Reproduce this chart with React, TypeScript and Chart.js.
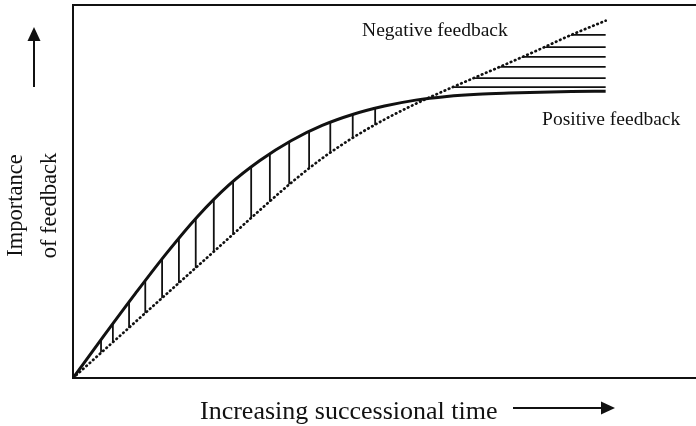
import React, { useEffect, useRef } from "react";
import { Chart, registerables } from "chart.js";

Chart.register(...registerables);

// Increasing successional time (arbitrary units, 0..100 across the frame)
const timeSteps = [0, 5, 10, 15, 20, 25, 30, 35, 40, 45, 50, 55, 60, 65, 70, 75, 80, 85.5];
// Importance of feedback (arbitrary units, 0..100 frame height)
const positiveFeedback = [0, 11.4, 22.6, 33.4, 43.3, 51.7, 58.3, 63.6, 67.7, 70.7, 72.9, 74.5, 75.5, 76.1, 76.4, 76.6, 76.8, 76.9];
const negativeFeedback = [0, 7.5, 15.0, 22.5, 30.0, 37.5, 45.0, 52.3, 58.9, 64.5, 69.3, 73.5, 77.3, 80.9, 84.5, 88.2, 92.0, 95.8];

// Hatching between the two curves
const verticalHatchX = [4.5, 6.4, 9.0, 11.6, 14.3, 17.0, 19.7, 22.6, 25.7, 28.6, 31.6, 34.7, 37.9, 41.3, 44.9, 48.5];
const horizontalHatchY = [92.0, 88.7, 86.1, 83.4, 80.4, 78.0];

// Text
const yTitleLines = ["Importance", "of feedback"];
const xTitle = "Increasing successional time";
const negativeLabel = { text: "Negative feedback", x: 46.4, y: 91.6 };
const positiveLabel = { text: "Positive feedback", x: 75.3, y: 67.8 };

const SERIF = '"Liberation Serif", "Times New Roman", serif';

function curvePath(ctx: CanvasRenderingContext2D, pts: any[], reverse: boolean, move: boolean) {
  const list = reverse ? [...pts].reverse() : pts;
  list.forEach((p: any, i: number) => {
    if (i === 0) {
      if (move) ctx.moveTo(p.x, p.y);
      else ctx.lineTo(p.x, p.y);
      return;
    }
    const prev = list[i - 1];
    if (prev.cp2x === undefined) {
      ctx.lineTo(p.x, p.y);
    } else if (!reverse) {
      ctx.bezierCurveTo(prev.cp2x, prev.cp2y, p.cp1x, p.cp1y, p.x, p.y);
    } else {
      ctx.bezierCurveTo(prev.cp1x, prev.cp1y, p.cp2x, p.cp2y, p.x, p.y);
    }
  });
}

const hatchPlugin = {
  id: "hatch",
  afterDatasetsDraw(chart: any) {
    const ctx: CanvasRenderingContext2D = chart.ctx;
    const metaPos = chart.getDatasetMeta(0);
    const metaNeg = chart.getDatasetMeta(1);
    metaPos.dataset.updateControlPoints(chart.chartArea, "x");
    metaNeg.dataset.updateControlPoints(chart.chartArea, "x");
    const pos = metaPos.data;
    const neg = metaNeg.data;
    const xs = chart.scales.x;
    const ys = chart.scales.y;
    const ca = chart.chartArea;
    ctx.save();
    ctx.beginPath();
    curvePath(ctx, pos, false, true);
    curvePath(ctx, neg, true, false);
    ctx.closePath();
    ctx.clip();
    ctx.strokeStyle = "#111";
    ctx.lineWidth = 1.8;
    ctx.beginPath();
    verticalHatchX.forEach((v) => {
      const px = xs.getPixelForValue(v);
      ctx.moveTo(px, ca.top);
      ctx.lineTo(px, ca.bottom);
    });
    horizontalHatchY.forEach((v) => {
      const py = ys.getPixelForValue(v);
      ctx.moveTo(ca.left, py);
      ctx.lineTo(ca.right, py);
    });
    ctx.stroke();
    ctx.restore();
  },
};

const annotationPlugin = {
  id: "annotations",
  afterDraw(chart: any) {
    const ctx: CanvasRenderingContext2D = chart.ctx;
    const ca = chart.chartArea;
    const xs = chart.scales.x;
    const ys = chart.scales.y;
    ctx.save();
    ctx.fillStyle = "#111";
    ctx.strokeStyle = "#111";

    // curve labels
    ctx.font = `19.5px ${SERIF}`;
    ctx.textAlign = "left";
    ctx.textBaseline = "alphabetic";
    ctx.fillText(negativeLabel.text, xs.getPixelForValue(negativeLabel.x), ys.getPixelForValue(negativeLabel.y));
    ctx.fillText(positiveLabel.text, xs.getPixelForValue(positiveLabel.x), ys.getPixelForValue(positiveLabel.y));

    // y title (rotated)
    const yc = (ca.top + ca.bottom) / 2 + 14;
    ctx.font = `22.5px ${SERIF}`;
    ctx.textAlign = "center";
    ctx.textBaseline = "middle";
    const xOffsets = [-56.5, -23];
    yTitleLines.forEach((line, i) => {
      ctx.save();
      ctx.translate(ca.left + xOffsets[i], yc);
      ctx.rotate(-Math.PI / 2);
      ctx.fillText(line, 0, 0);
      ctx.restore();
    });

    // y arrow
    const ax = ca.left - 39;
    ctx.lineWidth = 2;
    ctx.beginPath();
    ctx.moveTo(ax, ca.top + 82);
    ctx.lineTo(ax, ca.top + 33);
    ctx.stroke();
    ctx.beginPath();
    ctx.moveTo(ax, ca.top + 22);
    ctx.lineTo(ax - 6.5, ca.top + 36);
    ctx.lineTo(ax + 6.5, ca.top + 36);
    ctx.closePath();
    ctx.fill();

    // x title
    ctx.font = `26px ${SERIF}`;
    ctx.textAlign = "left";
    ctx.textBaseline = "alphabetic";
    ctx.fillText(xTitle, ca.left + 127, ca.bottom + 41);

    // x arrow
    const ay = ca.bottom + 30;
    ctx.beginPath();
    ctx.moveTo(ca.left + 440, ay);
    ctx.lineTo(ca.left + 530, ay);
    ctx.stroke();
    ctx.beginPath();
    ctx.moveTo(ca.left + 542, ay);
    ctx.lineTo(ca.left + 528, ay - 6.5);
    ctx.lineTo(ca.left + 528, ay + 6.5);
    ctx.closePath();
    ctx.fill();

    ctx.restore();
  },
};

export default function App() {
  const ref = useRef<HTMLCanvasElement | null>(null);
  useEffect(() => {
    if (!ref.current) return;
    const chart = new Chart(ref.current, {
      type: "line",
      data: {
        datasets: [
          {
            label: "Positive feedback",
            data: timeSteps.map((t, i) => ({ x: t, y: positiveFeedback[i] })),
            borderColor: "#111",
            borderWidth: 3,
            pointRadius: 0,
            cubicInterpolationMode: "monotone",
            fill: false,
          },
          {
            label: "Negative feedback",
            data: timeSteps.map((t, i) => ({ x: t, y: negativeFeedback[i] })),
            borderColor: "#111",
            borderWidth: 2.7,
            borderDash: [0.5, 4.0],
            borderCapStyle: "round",
            pointRadius: 0,
            cubicInterpolationMode: "monotone",
            fill: false,
          },
        ],
      },
      options: {
        responsive: false,
        animation: false,
        devicePixelRatio: 1,
        layout: { padding: 0 },
        plugins: { legend: { display: false }, tooltip: { enabled: false }, title: { display: false } },
        scales: {
          x: {
            type: "linear",
            min: 0,
            max: 100,
            position: "bottom",
            grid: { display: false, drawTicks: false },
            ticks: { display: false },
            border: { display: true, color: "#111", width: 2 },
            afterFit: (s: any) => { s.height = 48; },
          },
          xTop: {
            type: "linear",
            min: 0,
            max: 100,
            position: "top",
            grid: { display: false, drawTicks: false },
            ticks: { display: false },
            border: { display: true, color: "#111", width: 2 },
            afterFit: (s: any) => { s.height = 5; },
          },
          y: {
            type: "linear",
            min: 0,
            max: 100,
            position: "left",
            grid: { display: false, drawTicks: false },
            ticks: { display: false },
            border: { display: true, color: "#111", width: 2 },
            afterFit: (s: any) => { s.width = 73; },
          },
        },
      },
      plugins: [hatchPlugin, annotationPlugin],
    } as any);
    return () => chart.destroy();
  }, []);
  return (
    <div style={{ position: "fixed", left: 0, top: 0, width: 696, height: 426, background: "#fff" }}>
      <canvas ref={ref} width={696} height={426} />
    </div>
  );
}
